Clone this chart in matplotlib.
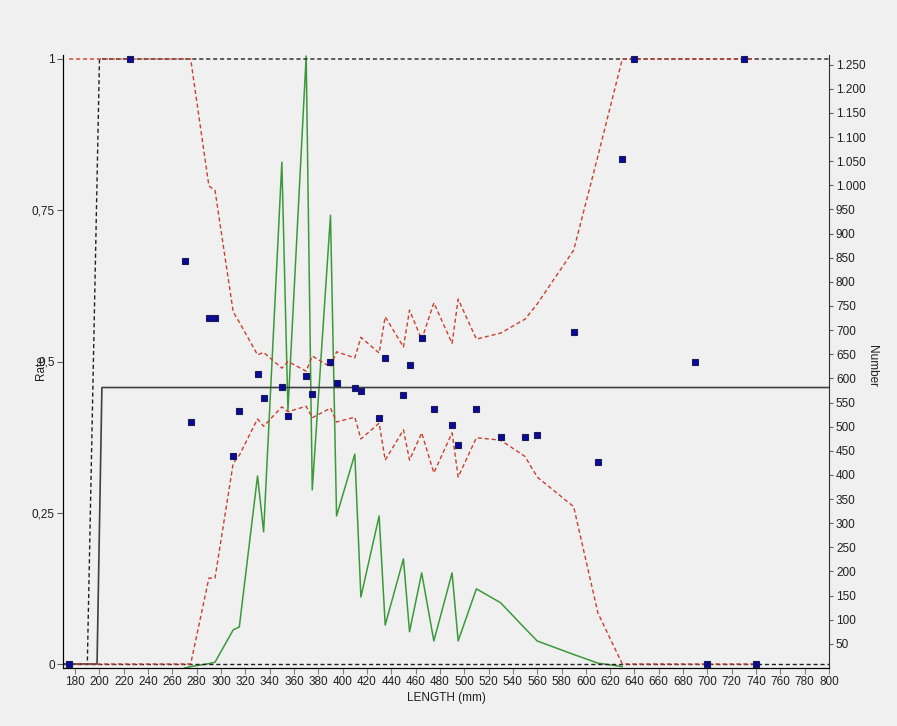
import numpy as np
import matplotlib
matplotlib.use("Agg")
import matplotlib.pyplot as plt

plt.rcParams["font.family"] = ["Liberation Sans", "DejaVu Sans"]
plt.rcParams["font.size"] = 8

# observed retention rate per length class (mm)
length_obs = [175, 225, 270, 275, 290, 295, 310, 315, 330, 335, 350, 355, 370, 375,
              390, 395, 410, 415, 430, 435, 450, 455, 465, 475, 490, 495, 510, 530,
              550, 560, 590, 610, 630, 640, 690, 700, 730, 740]
rate_obs = [0, 1.0, 0.666, 0.40, 0.572, 0.572, 0.344, 0.418, 0.48, 0.44, 0.458, 0.41,
            0.476, 0.447, 0.50, 0.464, 0.457, 0.451, 0.407, 0.506, 0.444, 0.494, 0.539,
            0.421, 0.395, 0.362, 0.421, 0.375, 0.375, 0.378, 0.549, 0.334, 0.835, 1.0,
            0.5, 0, 1.0, 0]

# confidence band on the same length classes
ci_upper = [1, 1, 1, 1, 0.79, 0.783, 0.582, 0.565, 0.511, 0.515, 0.489, 0.50, 0.484,
            0.509, 0.491, 0.516, 0.506, 0.54, 0.514, 0.574, 0.524, 0.585, 0.536, 0.597,
            0.53, 0.603, 0.537, 0.547, 0.57, 0.595, 0.684, 0.84, 1, 1, 1, 1, 1, 1]
ci_lower = [0, 0, 0, 0, 0.142, 0.142, 0.332, 0.345, 0.405, 0.393, 0.425, 0.417, 0.426,
            0.407, 0.423, 0.40, 0.408, 0.372, 0.398, 0.337, 0.387, 0.337, 0.382, 0.316,
            0.382, 0.309, 0.374, 0.370, 0.343, 0.309, 0.26, 0.084, 0, 0, 0, 0, 0, 0]

# fitted curves
sel_len = [170, 190, 200, 800]
sel_rate = [0, 0, 1, 1]
fit_len = [170, 198, 202, 800]
fit_rate = [0, 0, 0.457, 0.457]

# numbers measured per length class
len_n = [270, 275, 290, 295, 310, 315, 330, 335, 350, 355, 370, 375, 390, 395, 410,
         415, 430, 435, 450, 455, 465, 475, 490, 495, 510, 530, 550, 560, 590, 610, 630]
number = [0, 3, 9, 12, 79, 85, 398, 282, 1048, 534, 1268, 369, 938, 315, 443, 147,
          315, 89, 226, 75, 197, 56, 197, 56, 164, 135, 82, 56, 28, 10, 3]

x_ticks = list(range(180, 801, 20))
rate_ticks = [0, 0.25, 0.5, 0.75, 1]
rate_labels = ["0", "0,25", "0,5", "0,75", "1"]
num_ticks = list(range(50, 1251, 50))
num_labels = [f"{v:,}".replace(",", ".") for v in num_ticks]

BG = "#f0f0f0"
TXT = "#202020"

fig = plt.figure(figsize=(8.97, 7.26), dpi=100, facecolor=BG)
ax = fig.add_axes([63 / 897, 1 - 668 / 726, (829 - 63) / 897, (668 - 55) / 726])
ax2 = ax.twinx()
ax.set_zorder(ax2.get_zorder() + 1)
ax.patch.set_visible(False)
ax2.patch.set_facecolor(BG)

# number on the right axis
ax2.plot(len_n, number, color="#3a9a3a", lw=1.1)

# rates on the left axis
ax.axhline(0, color="#222222", lw=1, ls=(0, (3, 2)))
ax.plot(sel_len, sel_rate, color="#222222", lw=1, ls=(0, (3, 2)))
ax.plot(fit_len, fit_rate, color="#404040", lw=1.2)
ax.plot(length_obs, ci_upper, color="#c8412e", lw=1, ls=(0, (3, 2)))
ax.plot(length_obs, ci_lower, color="#c8412e", lw=1, ls=(0, (3, 2)))
ax.plot(length_obs, rate_obs, ls="none", marker="s", ms=5,
        mfc="#0a0a9e", mec="#1c1c55", mew=0.8)

ax.set_xlim(170, 800)
ax.set_ylim(-0.0066, 1.0066)
ax2.set_ylim(0, 1270)

ax.set_xticks(x_ticks)
ax.set_yticks(rate_ticks)
ax.set_yticklabels(rate_labels)
ax2.set_yticks(num_ticks)
ax2.set_yticklabels(num_labels)

ax.tick_params(axis="x", length=4, pad=2, colors="#808080", labelcolor=TXT, labelsize=8.5)
ax.tick_params(axis="y", length=4, pad=2, colors="#606060", labelcolor=TXT, labelsize=8.5)
ax2.tick_params(axis="y", length=3, pad=2, colors="#606060", labelcolor=TXT, labelsize=8.5)

for a in (ax, ax2):
    a.spines["top"].set_visible(False)
ax.spines["left"].set_color("#000000")
ax.spines["bottom"].set_color("#000000")
ax2.spines["right"].set_color("#303030")
ax.spines["right"].set_visible(False)

ax.set_xlabel("LENGTH (mm)", fontsize=8.5, color=TXT, labelpad=3)
fig.text(41 / 897, 1 - 368 / 726, "Rate", rotation=90, ha="center", va="center",
         fontsize=8.5, color=TXT)
fig.text(872 / 897, 1 - 366 / 726, "Number", rotation=270, ha="center", va="center",
         fontsize=8.5, color=TXT)

fig.savefig("out.png", dpi=100, facecolor=BG)
